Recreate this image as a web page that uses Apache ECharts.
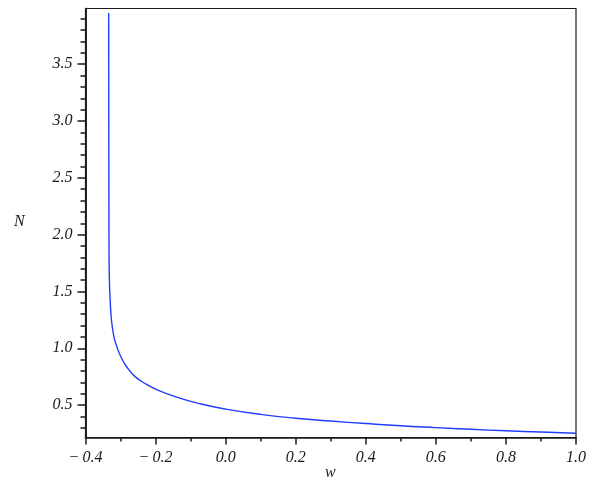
<!DOCTYPE html>
<html>
<head>
<meta charset="utf-8">
<script src="https://cdn.jsdelivr.net/npm/echarts@6/dist/echarts.min.js"></script>
<style>
  html, body { margin: 0; padding: 0; background: #fff; }
  #chart { width: 599px; height: 491px; }
</style>
</head>
<body>
<div id="chart"></div>
<script>
// values
const wValues = [-0.3338, -0.3335, -0.3332, -0.3328, -0.3318, -0.3300, -0.3275, -0.3240, -0.3180, -0.3100,
  -0.2990, -0.2830, -0.2600, -0.2300, -0.1970, -0.1400, -0.0730, 0.0, 0.1,
  0.2, 0.3, 0.4, 0.5, 0.6, 0.7, 0.8, 0.9, 1.0];
const nValues = [3.95, 3.0, 2.3, 1.85, 1.60, 1.45, 1.31, 1.20, 1.09, 1.01,
  0.925, 0.84, 0.755, 0.69, 0.637, 0.57, 0.512, 0.465, 0.418,
  0.385, 0.36, 0.338, 0.318, 0.302, 0.287, 0.274, 0.263, 0.253];

const yMajorTicks = [0.5, 1.0, 1.5, 2.0, 2.5, 3.0, 3.5];
const yMinorTicks = [0.3, 0.4, 0.6, 0.7, 0.8, 0.9, 1.1, 1.2, 1.3, 1.4, 1.6, 1.7, 1.8, 1.9,
  2.1, 2.2, 2.3, 2.4, 2.6, 2.7, 2.8, 2.9, 3.1, 3.2, 3.3, 3.4, 3.6, 3.7, 3.8, 3.9];

const font = "Liberation Serif";
const ink = "#1a1a1a";

const chart = echarts.init(document.getElementById("chart"));

function fmt(v) {
  return v < 0 ? "\u2212\u2009" + Math.abs(v).toFixed(1) : v.toFixed(1);
}

const yBase = {
  type: "value",
  min: 0.215,
  max: 3.99,
  position: "left",
  splitLine: { show: false },
  axisLine: { show: true, onZero: false, lineStyle: { color: ink, width: 1.5 } },
};

const option = {
  animation: false,
  grid: {
    left: 85.5, right: 23, top: 8.5, bottom: 53.5,
    show: true, borderColor: ink, borderWidth: 1.2,
  },
  xAxis: {
    type: "value",
    min: -0.4,
    max: 1.0,
    interval: 0.2,
    splitLine: { show: false },
    axisLine: { onZero: false, lineStyle: { color: ink, width: 1.5 } },
    axisTick: { length: 7, lineStyle: { color: ink, width: 1.5 } },
    minorTick: { show: true, splitNumber: 2, length: 4, lineStyle: { color: ink, width: 1.5 } },
    axisLabel: {
      margin: 12,
      fontFamily: font, fontStyle: "italic", fontSize: 16, color: ink,
      formatter: fmt,
    },
  },
  yAxis: [
    Object.assign({}, yBase, {
      axisTick: { length: 8, customValues: yMajorTicks, lineStyle: { color: ink, width: 1.5 } },
      axisLabel: {
        customValues: yMajorTicks,
        margin: 13,
        fontFamily: font, fontStyle: "italic", fontSize: 16, color: ink,
        formatter: (v) => v.toFixed(1),
      },
    }),
    Object.assign({}, yBase, {
      axisTick: { length: 5, customValues: yMinorTicks, lineStyle: { color: ink, width: 1.5 } },
      axisLabel: { show: false },
    }),
  ],
  graphic: [
    {
      type: "text", left: 14, top: 214,
      style: { text: "N", fontFamily: font, fontStyle: "italic", fontSize: 16, fill: ink },
    },
    {
      type: "text", left: 325, top: 465,
      style: { text: "w", fontFamily: font, fontStyle: "italic", fontSize: 16, fill: ink },
    },
  ],
  series: [
    {
      type: "line",
      yAxisIndex: 0,
      data: wValues.map((w, i) => [w, nValues[i]]),
      showSymbol: false,
      smooth: 0.5,
      lineStyle: { color: "#1f3dff", width: 1.4 },
    },
  ],
};

chart.setOption(option);
</script>
</body>
</html>
